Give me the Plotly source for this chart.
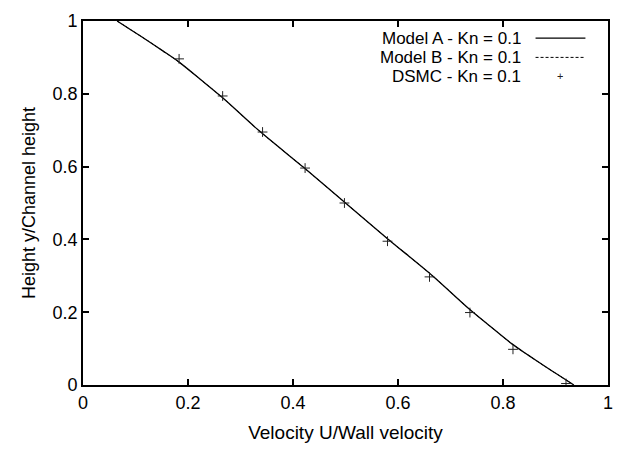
import plotly.graph_objects as go

# Model curves: velocity U/Uw vs height y/H
model_u = [0.065, 0.093, 0.121, 0.152, 0.183, 0.225, 0.266, 0.335, 0.42, 0.5,
           0.58, 0.665, 0.734, 0.775, 0.817, 0.848, 0.879, 0.907, 0.935]
model_y = [1.0, 0.974, 0.948, 0.918, 0.887, 0.838, 0.789, 0.699, 0.598, 0.5,
           0.402, 0.301, 0.211, 0.162, 0.113, 0.082, 0.052, 0.026, 0.0]

# DSMC data points
dsmc_u = [0.183, 0.266, 0.342, 0.423, 0.498, 0.580, 0.660, 0.737, 0.819, 0.920]
dsmc_y = [0.896, 0.794, 0.695, 0.596, 0.500, 0.395, 0.297, 0.199, 0.098, 0.004]

legend_labels = ["Model A - Kn = 0.1", "Model B - Kn = 0.1", "DSMC - Kn = 0.1"]
tick_vals = [0, 0.2, 0.4, 0.6, 0.8, 1]
tick_text = ["0", "0.2", "0.4", "0.6", "0.8", "1"]

FONT = "Liberation Sans, Arial, sans-serif"
FS = 17

fig = go.Figure()
fig.add_trace(go.Scatter(x=model_u, y=model_y, mode="lines", line=dict(color="black", width=1.3, shape="spline", smoothing=0.8),
                         name=legend_labels[0], showlegend=False))
fig.add_trace(go.Scatter(x=model_u, y=model_y, mode="lines", line=dict(color="black", width=1, dash="3px,2px", shape="spline", smoothing=0.8),
                         name=legend_labels[1], showlegend=False))
fig.add_trace(go.Scatter(x=dsmc_u, y=dsmc_y, mode="markers",
                         marker=dict(symbol="cross-thin", size=7, line=dict(color="#222", width=1)),
                         name=legend_labels[2], showlegend=False))

axis_common = dict(range=[0, 1], tickvals=tick_vals, ticktext=tick_text, ticks="inside", ticklen=6,
                   tickwidth=1.5, tickcolor="black", showline=True, linecolor="black", linewidth=1.8,
                   mirror="ticks", showgrid=False, zeroline=False,
                   tickfont=dict(family=FONT, size=18, color="black"))

fig.update_xaxes(**axis_common, title=dict(text="Velocity U/Wall velocity", font=dict(family=FONT, size=19, color="black"), standoff=14))
fig.update_yaxes(**axis_common, title=dict(text="Height y/Channel height", font=dict(family=FONT, size=18, color="black"), standoff=12))

# custom gnuplot-style key (text then sample)
rows = [0.953, 0.900, 0.848]
for lab, yr in zip(legend_labels, rows):
    fig.add_annotation(xref="paper", yref="paper", x=0.838, y=yr, text=lab, showarrow=False, height=17,
                       xanchor="right", yanchor="middle", font=dict(family=FONT, size=FS, color="black"))
fig.add_shape(type="line", xref="paper", yref="paper", x0=0.862, x1=0.957, y0=rows[0], y1=rows[0],
              line=dict(color="black", width=1.3))
fig.add_shape(type="line", xref="paper", yref="paper", x0=0.862, x1=0.957, y0=rows[1], y1=rows[1],
              line=dict(color="black", width=1, dash="3px,2px"))
fig.add_annotation(xref="paper", yref="paper", x=0.909, y=rows[2], text="+", showarrow=False, height=14,
                   xanchor="center", yanchor="middle", font=dict(family=FONT, size=11, color="#222"))

fig.update_layout(width=624, height=451, margin=dict(l=83, r=11, t=12, b=58),
                  plot_bgcolor="white", paper_bgcolor="white", showlegend=False)

fig.write_html("out.html")
